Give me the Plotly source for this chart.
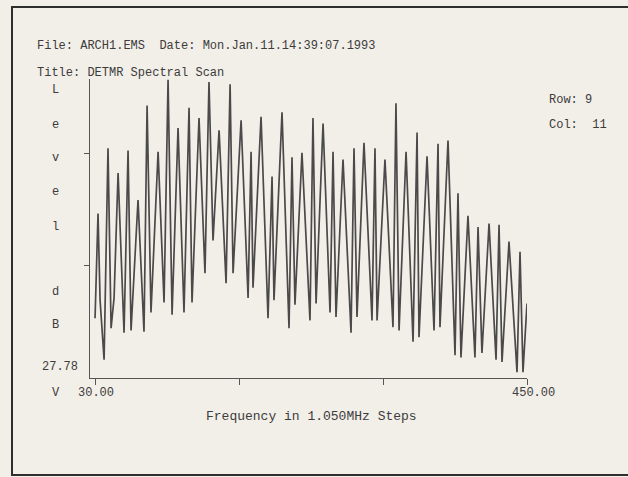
import plotly.graph_objects as go

# Frequency (steps) and level (dB)
freq = [30.0, 32.9, 34.9, 38.8, 42.6, 45.6, 48.5, 52.4, 58.2, 62.1, 65.0, 71.8, 77.6, 80.6, 84.4,
        91.3, 97.1, 101.0, 104.9, 110.7, 116.5, 121.4, 124.3, 131.1, 136.9, 140.8, 144.7, 150.6,
        157.4, 161.3, 164.2, 172.0, 178.8, 181.7, 183.6, 191.4, 198.2, 202.1, 204.0, 211.8, 218.6,
        221.5, 224.4, 231.2, 239.0, 241.9, 244.9, 251.7, 258.5, 261.4, 264.3, 271.1, 278.9, 281.8,
        284.7, 291.5, 299.3, 302.2, 304.2, 311.9, 319.7, 322.6, 325.6, 332.4, 339.2, 343.1, 345.0,
        352.8, 359.6, 363.5, 365.4, 373.2, 380.0, 382.9, 385.8, 392.6, 399.4, 402.4, 406.2, 413.1,
        419.9, 422.8, 425.7, 432.5, 440.3, 443.2, 446.1, 450.0]
level = [33.1, 42.4, 34.7, 29.4, 48.2, 32.2, 34.9, 46.0, 31.8, 48.0, 32.0, 43.6, 31.9, 52.0, 33.6,
         47.9, 34.5, 54.3, 33.4, 50.0, 33.6, 51.8, 34.5, 50.9, 37.1, 54.1, 40.0, 49.8,
         36.2, 53.9, 37.1, 50.7, 34.9, 47.9, 35.8, 51.0, 33.1, 45.7, 34.7, 51.4, 32.2,
         47.4, 34.3, 47.8, 32.9, 50.9, 34.4, 50.4, 33.6, 47.9, 33.2, 47.2, 31.8, 48.2,
         33.2, 48.7, 32.9, 48.2, 32.9, 47.2, 32.3, 52.2, 32.0, 47.9, 31.0, 49.6, 31.4,
         47.5, 32.0, 48.6, 32.3, 48.9, 29.8, 44.2, 29.6, 42.2, 29.6, 41.2, 30.0, 41.5,
         29.4, 41.4, 29.2, 39.9, 28.3, 39.0, 28.3, 34.4]

x_ticks = [30, 170, 310, 450]
y_min = 27.78
y_ticks = [37.78, 47.78]

header = "File: ARCH1.EMS  Date: Mon.Jan.11.14:39:07.1993"
title = "Title: DETMR Spectral Scan"
row_txt = "Row: 9"
col_txt = "Col:  11"
ylab_letters = ["L", "e", "v", "e", "l", "d", "B"]
x_title = "Frequency in 1.050MHz Steps"

W, H = 628, 477
L, R, T, B = 90, 527, 79, 378
FONT = "Liberation Mono"
TXT = "#3c3c3c"


def px(x):
    return (x - L) / (R - L)


def py(y):
    return (B - y) / (B - T)


fig = go.Figure()
fig.add_trace(go.Scatter(x=freq, y=level, mode="lines",
                         line=dict(color="#4a4a4a", width=1.7), hoverinfo="skip"))

ann = []


def add(text, x, y, size=12, xanchor="left"):
    ann.append(dict(text=text, x=px(x), y=py(y), xref="paper", yref="paper",
                    xanchor=xanchor, yanchor="middle", showarrow=False,
                    font=dict(family=FONT, size=size, color=TXT)))


add(header, 35, 46)
add(title, 35, 73)
add(row_txt, 547, 100)
add(col_txt, 547, 125)
for ch, yy in zip(ylab_letters, [90, 125, 158, 192, 227, 292, 325]):
    add(ch, 55, yy, xanchor="center")
add(f"{y_min:.2f}", 80, 367, xanchor="right")
add("V", 56, 393, xanchor="center")
add(f"{x_ticks[0]:.2f}", 96, 393, xanchor="center")
add(f"{x_ticks[-1]:.2f}", 533, 393, xanchor="center")
add(x_title, 204, 416, size=13)

fig.update_layout(
    width=W, height=H,
    margin=dict(l=L, r=W - R, t=T, b=H - B),
    paper_bgcolor="#f2eee8", plot_bgcolor="rgba(0,0,0,0)",
    showlegend=False,
    annotations=ann,
    shapes=[dict(type="rect", xref="paper", yref="paper",
                 x0=px(12), x1=px(640), y0=py(475), y1=py(7),
                 line=dict(color="#2e2e2e", width=2))],
    xaxis=dict(range=[25.1, 450], showgrid=False, zeroline=False,
               showline=True, linecolor="#555", linewidth=1.3,
               ticks="outside", ticklen=6, tickcolor="#555", tickwidth=1.3,
               tickvals=x_ticks, ticktext=["" for _ in x_ticks]),
    yaxis=dict(range=[y_min, 54.36], showgrid=False, zeroline=False,
               showline=True, linecolor="#555", linewidth=1.3,
               ticks="outside", ticklen=5, tickcolor="#555", tickwidth=1.3,
               tickvals=y_ticks, ticktext=["" for _ in y_ticks]),
)

fig.write_html("out.html", config={"displayModeBar": False},
               post_script="document.body.style.margin='0';document.body.style.background='#f2eee8';")
